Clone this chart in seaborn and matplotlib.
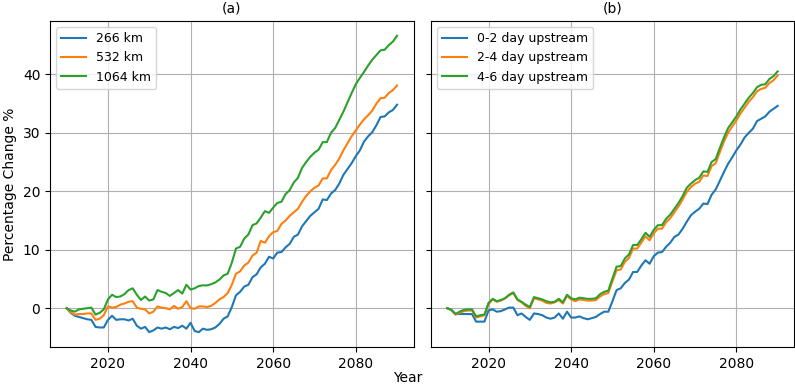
import matplotlib
matplotlib.use('Agg')

import numpy as np
import pandas as pd
import matplotlib.pyplot as plt
import seaborn as sns

# --------------------------------------------------------------------------- #
# DATA (one value per year 2010-2090)
# --------------------------------------------------------------------------- #
years = list(range(2010, 2091))

# panel (a): distance
dist_labels = ["266 km", "532 km", "1064 km"]
km266 = [0, -0.8, -1.3, -1.5, -1.7, -1.9, -2.0, -3.2, -3.3, -3.3,
         -2.0, -1.3, -2.0, -1.9, -1.9, -2.1, -1.8, -3.0, -3.5, -3.2,
         -4.1, -3.8, -3.3, -3.5, -3.3, -3.6, -3.2, -3.4, -3.0, -3.5,
         -2.5, -3.9, -4.1, -3.5, -3.7, -3.6, -3.3, -2.7, -1.8, -1.4,
         0.2, 2.2, 2.8, 3.7, 4.0, 5.3, 5.8, 7.0, 7.6, 8.8,
         8.5, 9.5, 9.6, 10.4, 11.0, 12.2, 12.6, 14.0, 14.9, 15.8,
         16.4, 17.0, 18.6, 18.5, 19.6, 20.2, 21.3, 22.8, 23.8, 24.8,
         26.0, 27.0, 28.5, 29.4, 30.1, 31.3, 32.7, 32.8, 33.5, 33.9,
         34.8]
km532 = [0, -0.7, -1.1, -1.0, -1.0, -0.9, -0.9, -2.0, -1.8, -1.2,
         0.3, 0.1, 0.2, 0.6, 0.8, 1.1, 1.2, 0.1, -0.1, -0.2,
         -0.9, -0.6, 0.3, 0.1, 0.0, -0.2, 0.4, -0.1, 0.2, 1.2,
         0.0, -0.1, 0.3, 0.3, 0.2, 0.4, 0.9, 1.5, 1.9, 2.6,
         4.0, 5.9, 6.3, 7.3, 7.8, 9.0, 9.5, 11.5, 11.2, 12.3,
         13.0, 13.2, 14.4, 15.0, 15.8, 16.4, 17.0, 18.2, 19.2, 20.0,
         20.6, 21.0, 22.2, 22.2, 23.6, 24.5, 25.6, 27.0, 28.2, 29.4,
         30.4, 31.4, 32.3, 33.0, 33.8, 35.0, 35.9, 36.0, 36.8, 37.3,
         38.1]
km1064 = [0, -0.4, -0.6, -0.2, -0.1, 0.0, 0.1, -1.1, -0.8, -0.2,
          1.5, 2.3, 1.9, 2.0, 2.4, 3.1, 3.4, 2.3, 1.4, 2.0,
          1.3, 1.5, 3.1, 2.8, 2.6, 2.1, 2.6, 3.1, 2.5, 4.0,
          3.2, 3.4, 3.8, 3.9, 3.9, 4.1, 4.4, 4.9, 5.6, 5.9,
          7.8, 10.2, 10.5, 11.9, 12.6, 14.2, 14.5, 15.5, 16.6, 16.3,
          17.2, 18.0, 18.2, 19.5, 20.2, 21.5, 22.3, 24.0, 25.0, 25.9,
          26.6, 27.1, 28.4, 28.4, 30.0, 30.8, 32.2, 33.6, 35.2, 36.8,
          38.3, 39.4, 40.4, 41.5, 42.5, 43.3, 44.1, 44.2, 45.0, 45.6,
          46.6]

# panel (b): upstream time
time_labels = ["0-2 day upstream", "2-4 day upstream", "4-6 day upstream"]
up02 = [0, -0.3, -1.0, -1.0, -1.0, -1.0, -1.0, -2.3, -2.3, -2.3,
        -0.4, -0.2, -0.6, -0.5, -0.2, 0.1, 0.1, -1.2, -0.9, -1.5,
        -2.0, -0.9, -1.0, -1.2, -1.6, -1.8, -1.6, -0.9, -1.8, -0.6,
        -1.6, -1.6, -1.4, -1.7, -1.9, -1.7, -1.5, -1.0, -0.6, -0.6,
        1.2, 3.1, 3.4, 4.3, 4.9, 6.2, 6.2, 7.3, 8.2, 7.6,
        8.9, 9.5, 9.6, 10.5, 11.2, 12.2, 12.6, 13.6, 14.8, 15.9,
        16.5, 17.0, 17.9, 17.8, 19.4, 20.3, 21.8, 23.3, 24.7, 25.8,
        27.0, 28.0, 29.2, 30.0, 30.7, 32.0, 32.4, 32.8, 33.6, 34.1,
        34.6]
up24 = [0, -0.3, -1.1, -0.8, -0.5, -0.4, -0.4, -1.6, -1.4, -1.2,
        0.7, 1.5, 1.1, 1.3, 1.7, 2.2, 2.6, 1.4, 1.0, 0.4,
        0.0, 1.7, 1.5, 1.3, 0.9, 0.8, 1.0, 1.4, 0.8, 2.1,
        1.5, 1.2, 1.5, 1.4, 1.3, 1.3, 1.4, 2.0, 2.4, 2.6,
        4.6, 6.5, 6.6, 7.9, 8.6, 10.2, 10.2, 11.2, 12.3, 11.6,
        12.8, 13.6, 13.6, 14.7, 15.4, 16.4, 17.4, 18.6, 19.9, 20.7,
        21.3, 21.6, 22.7, 22.6, 24.3, 24.8, 26.7, 28.5, 30.0, 31.1,
        32.1, 33.3, 34.3, 35.3, 36.1, 37.1, 37.5, 37.7, 38.5, 39.0,
        39.8]
up46 = [0, -0.3, -1.0, -0.6, -0.3, -0.2, -0.2, -1.4, -1.2, -1.1,
        0.9, 1.6, 1.2, 1.4, 1.7, 2.3, 2.7, 1.5, 1.1, 0.6,
        0.2, 1.9, 1.7, 1.5, 1.2, 1.0, 1.1, 1.6, 1.0, 2.3,
        1.7, 1.5, 1.8, 1.7, 1.6, 1.6, 1.7, 2.4, 2.8, 3.0,
        5.1, 7.1, 7.2, 8.5, 9.2, 10.8, 10.8, 11.8, 12.9, 12.2,
        13.4, 14.2, 14.2, 15.3, 16.0, 17.0, 18.0, 19.2, 20.6, 21.3,
        21.9, 22.3, 23.4, 23.3, 25.0, 25.5, 27.4, 29.2, 30.8, 31.8,
        32.8, 34.0, 35.0, 36.0, 36.8, 37.8, 38.2, 38.3, 39.2, 39.7,
        40.5]

COLORS = ["#1f77b4", "#ff7f0e", "#2ca02c"]


def long_frame(labels, series):
    rows = []
    for lab, vals in zip(labels, series):
        rows.append(pd.DataFrame({"Year": years, "change": vals, "group": lab}))
    return pd.concat(rows, ignore_index=True)


df_a = long_frame(dist_labels, [km266, km532, km1064])
df_b = long_frame(time_labels, [up02, up24, up46])

# --------------------------------------------------------------------------- #
# PLOT
# --------------------------------------------------------------------------- #
fig, axes = plt.subplots(1, 2, figsize=(7.95, 3.87), dpi=100, sharey=True)

for ax, df, labels, title in [(axes[0], df_a, dist_labels, "(a)"),
                              (axes[1], df_b, time_labels, "(b)")]:
    sns.lineplot(data=df, x="Year", y="change", hue="group",
                 hue_order=labels, palette=COLORS, linewidth=1.5, ax=ax)
    ax.grid(True, color="#b0b0b0", linewidth=0.8)
    ax.set_axisbelow(True)
    ax.set_title(title, fontsize=10)
    ax.set_xlabel("")
    ax.set_ylabel("")
    ax.set_xticks([2020, 2040, 2060, 2080])
    ax.legend(loc="upper left", title=None, fontsize=9)

axes[0].set_yticks([0, 10, 20, 30, 40])
axes[0].set_ylabel("Percentage Change %")
fig.text(0.513, 0.004, "Year", ha="center", va="bottom", fontsize=10)

plt.subplots_adjust(left=0.063, right=0.999, bottom=0.1034, top=0.946,
                    wspace=0.047)
plt.savefig("out.png", dpi=100)
plt.close()
